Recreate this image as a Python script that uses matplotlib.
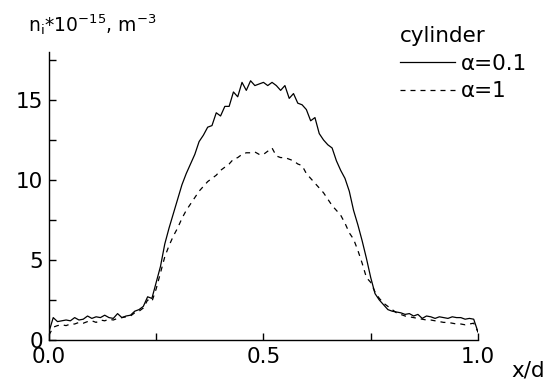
import numpy as np
import matplotlib
matplotlib.use('Agg')
import matplotlib.pyplot as plt

plt.rcParams['font.family'] = ['DejaVu Sans']
plt.rcParams['mathtext.fontset'] = 'dejavusans'

x_d = np.round(np.arange(0, 101) * 0.01, 2)

n_alpha01 = [0.5, 1.4, 1.15, 1.2, 1.25, 1.2, 1.4, 1.25, 1.3, 1.5,
             1.35, 1.45, 1.4, 1.55, 1.4, 1.35, 1.65, 1.4, 1.5, 1.55,
             1.8, 1.9, 2.1, 2.7, 2.6, 3.6, 4.6, 6.0, 7.0, 7.9,
             8.8, 9.7, 10.4, 11.0, 11.6, 12.4, 12.8, 13.3, 13.4, 14.2,
             14.0, 14.6, 14.6, 15.5, 15.2, 16.1, 15.6, 16.2, 15.9, 16.0,
             16.1, 15.9, 16.1, 15.9, 15.6, 15.9, 15.1, 15.4, 14.8, 14.7,
             14.4, 13.7, 13.9, 12.9, 12.5, 12.2, 12.0, 11.2, 10.6, 10.1,
             9.3, 8.1, 7.2, 6.2, 5.1, 3.9, 2.9, 2.5, 2.2, 1.9,
             1.8, 1.75, 1.7, 1.6, 1.65, 1.5, 1.6, 1.35, 1.5, 1.45,
             1.35, 1.45, 1.4, 1.35, 1.45, 1.4, 1.4, 1.3, 1.35, 1.3,
             0.5]

n_alpha1 = [0.3, 0.8, 0.9, 0.95, 0.9, 1.0, 1.0, 1.1, 1.05, 1.15,
            1.2, 1.1, 1.25, 1.2, 1.3, 1.25, 1.35, 1.4, 1.45, 1.5,
            1.7, 1.8, 2.0, 2.5, 2.4, 3.2, 4.2, 5.2, 5.9, 6.5,
            7.0, 7.6, 8.1, 8.5, 8.9, 9.3, 9.6, 9.9, 10.1, 10.3,
            10.6, 10.8, 11.0, 11.3, 11.4, 11.6, 11.7, 11.7, 11.75, 11.6,
            11.6, 11.8, 12.0, 11.5, 11.4, 11.4, 11.3, 11.2, 11.0, 10.9,
            10.4, 10.1, 9.8, 9.5, 9.2, 8.8, 8.4, 8.1, 7.8, 7.3,
            6.7, 6.3, 5.6, 4.8, 3.9, 3.6, 3.0, 2.6, 2.3, 2.1,
            1.9, 1.7, 1.6, 1.5, 1.45, 1.4, 1.35, 1.3, 1.25, 1.25,
            1.2, 1.15, 1.1, 1.1, 1.05, 1.0, 1.0, 0.95, 1.0, 1.05,
            0.5]

fs = 15.5

fig = plt.figure(figsize=(5.56, 3.81), dpi=100)
ax = fig.add_axes([0.088, 0.1076, 0.7717, 0.756])

ax.plot(x_d, n_alpha01, color='black', lw=0.9, label='α=0.1')
ax.plot(x_d, n_alpha1, color='black', lw=0.9, ls=(0, (4, 4)), label='α=1')

ax.set_xlim(0, 1)
ax.set_ylim(0, 18)
ax.set_xticks([0, 0.5, 1.0])
ax.set_xticklabels(['0.0', '0.5', '1.0'])
ax.set_xticks([0.25, 0.75], minor=True)
ax.set_yticks([0, 5, 10, 15])
ax.set_yticks([2.5, 7.5, 12.5, 17.5], minor=True)

for side in ['top', 'right']:
    ax.spines[side].set_visible(False)
for side in ['left', 'bottom']:
    ax.spines[side].set_linewidth(1.0)

ax.tick_params(which='both', direction='in', length=5, width=1.0, labelsize=fs)
ax.tick_params(axis='x', pad=5)
ax.tick_params(axis='y', pad=4)

leg = ax.legend(title='cylinder', loc='upper left', bbox_to_anchor=(0.819, 1.09),
                frameon=False, fontsize=fs, title_fontsize=fs,
                handlelength=2.56, handletextpad=0.25, labelspacing=0.35,
                borderaxespad=0, borderpad=0)
leg._legend_box.align = 'left'

fig.text(28 / 556, 1 - 32 / 381,
         r'n$_\mathregular{i}$*10$^\mathregular{-15}$, m$^\mathregular{-3}$',
         fontsize=13.5, va='baseline', ha='left')
fig.text(511 / 556, 1 - 376 / 381, 'x/d', fontsize=fs, va='baseline', ha='left')

fig.savefig('out.png', dpi=100)
